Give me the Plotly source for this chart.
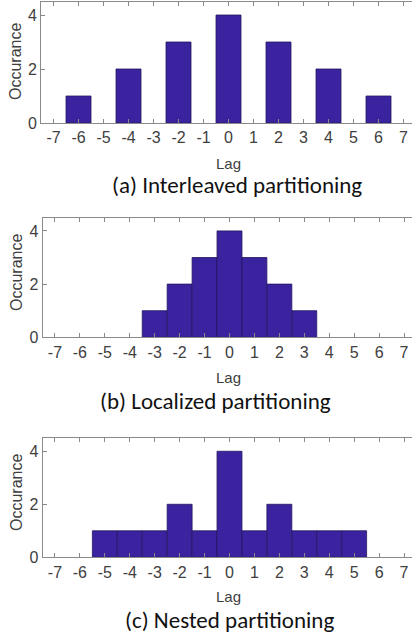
import plotly.graph_objects as go

# ---- data ----
lags_a = [-6, -4, -2, 0, 2, 4, 6]
occ_a = [1, 2, 3, 4, 3, 2, 1]

lags_b = [-3, -2, -1, 0, 1, 2, 3]
occ_b = [1, 2, 3, 4, 3, 2, 1]

lags_c = [-5, -4, -3, -2, -1, 0, 1, 2, 3, 4, 5]
occ_c = [1, 1, 1, 2, 1, 4, 1, 2, 1, 1, 1]

x_ticks = list(range(-7, 8))
y_ticks = [0, 2, 4]
captions = ["(a) Interleaved partitioning", "(b) Localized partitioning", "(c) Nested partitioning"]

W, H = 412, 637
BAR = "#3b23a0"
EDGE = "#24165e"
AXC = "#8a8a8a"
TXT = "#404040"

def px_x(p):
    return p / W

def px_y(p):
    return 1 - p / H

# panel geometry in pixels
panels = [
    dict(left=41, top=1.5, bottom=123, xr=7.34, lag=163, cap=(237, 185), occ=62),
    dict(left=42.5, top=217.6, bottom=337.3, xr=7.32, lag=377, cap=(215, 401), occ=273),
    dict(left=42.5, top=438, bottom=557.3, xr=7.32, lag=596, cap=(229, 619.5), occ=493),
]
data = [(lags_a, occ_a), (lags_b, occ_b), (lags_c, occ_c)]

fig = go.Figure()
layout = dict(
    width=W, height=H,
    margin=dict(l=0, r=0, t=0, b=0, autoexpand=False),
    paper_bgcolor="white", plot_bgcolor="white",
    showlegend=False,
    font=dict(family="Liberation Sans, Arial", color=TXT),
    annotations=[],
)

for i, (p, (lx, ly)) in enumerate(zip(panels, data)):
    n = "" if i == 0 else str(i + 1)
    fig.add_trace(go.Bar(
        x=lx, y=ly, width=1,
        marker=dict(color=BAR, line=dict(color=EDGE, width=0.8)),
        xaxis="x" + n, yaxis="y" + n,
    ))
    layout["xaxis" + n] = dict(
        domain=[px_x(p["left"]), 1],
        range=[-7.5, p["xr"]],
        tickvals=x_ticks, ticktext=[str(v) for v in x_ticks],
        ticks="inside", ticklen=4, tickcolor=AXC,
        showline=True, linecolor=AXC, linewidth=1, mirror="ticks",
        showgrid=False, zeroline=False,
        tickfont=dict(size=16, color=TXT),
        anchor="y" + n, fixedrange=True, automargin=False,
    )
    layout["yaxis" + n] = dict(
        domain=[px_y(p["bottom"]), px_y(p["top"])],
        range=[0, 4.5],
        tickvals=y_ticks,
        ticks="inside", ticklen=4, tickcolor=AXC,
        showline=True, linecolor=AXC, linewidth=1,
        showgrid=False, zeroline=False,
        tickfont=dict(size=16, color=TXT),
        anchor="x" + n, fixedrange=True, automargin=False,
    )
    layout["annotations"].append(dict(
        text="Lag", x=px_x(228), y=px_y(p["lag"]), xref="paper", yref="paper",
        showarrow=False, font=dict(size=15, color=TXT), xanchor="center", yanchor="middle",
    ))
    layout["annotations"].append(dict(
        text="Occurance", x=px_x(16), y=px_y(p["occ"]), xref="paper", yref="paper",
        showarrow=False, textangle=-90, font=dict(size=16, color=TXT),
        xanchor="center", yanchor="middle",
    ))
    layout["annotations"].append(dict(
        text=captions[i], x=px_x(p["cap"][0]), y=px_y(p["cap"][1]), xref="paper", yref="paper",
        showarrow=False, font=dict(size=23, color="#111111", family="Carlito, Lato, Open Sans"),
        xanchor="center", yanchor="middle",
    ))

fig.update_layout(**layout)
fig.write_html(
    "out.html",
    config=dict(displayModeBar=False),
    post_script="document.body.style.margin='0';document.body.style.overflow='hidden';",
)
